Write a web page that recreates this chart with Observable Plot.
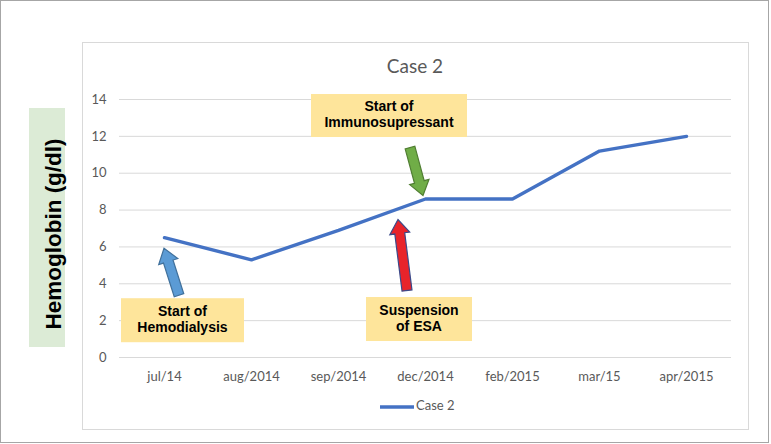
<!DOCTYPE html>
<html><head><meta charset="utf-8">
<script src="https://cdn.jsdelivr.net/npm/d3@7"></script>
<script src="https://cdn.jsdelivr.net/npm/@observablehq/plot@0.6"></script>
<style>body{margin:0;background:#fff}</style>
</head><body><div id="chart"></div>
<script>
const categories = ["jul/14","aug/2014","sep/2014","dec/2014","feb/2015","mar/15","apr/2015"];
const hemoglobin = [6.5, 5.3, 6.9, 8.6, 8.6, 11.2, 12.0];
const yTicks = [0, 2, 4, 6, 8, 10, 12, 14];
const seriesName = "Case 2";
const chartTitle = "Case 2";
const yLabel = "Hemoglobin (g/dl)";
const annotationTexts = [["Start of", "Hemodialysis"], ["Start of", "Immunosupressant"], ["Suspension", "of ESA"]];
const annotationAnchors = ["jul/14", "dec/2014", "dec/2014"];

const data = categories.map((c, i) => ({month: c, hb: hemoglobin[i]}));

const plot = Plot.plot({
  width: 771, height: 444,
  marginLeft: 119, marginRight: 40, marginTop: 99, marginBottom: 87,
  style: {fontFamily: "Lato, sans-serif", background: "#fff"},
  x: {type: "point", domain: categories, padding: 0.5},
  y: {domain: [0, 14]},
  marks: [
    Plot.gridY(yTicks, {stroke: "#d9d9d9", strokeOpacity: 1, strokeWidth: 1}),
    Plot.axisY(yTicks, {tickSize: 0, tickPadding: 13, fontSize: 13, color: "#595959", label: null}),
    Plot.axisX({tickSize: 0, tickPadding: 14, fontSize: 13, color: "#595959", label: null}),
    Plot.line(data, {x: "month", y: "hb", stroke: "#4472c4", strokeWidth: 3.4, strokeLinejoin: "miter"})
  ]
});
document.getElementById("chart").appendChild(plot);

const sx = plot.scale("x").apply, sy = plot.scale("y").apply;
const svg = d3.select(plot);
const hbOf = m => hemoglobin[categories.indexOf(m)];

// frames (behind)
const back = svg.insert("g", ":first-child");
back.append("rect").attr("x", 0.5).attr("y", 0.5).attr("width", 768).attr("height", 442)
  .attr("fill", "#fff").attr("stroke", "#a6a6a6");
back.append("rect").attr("x", 82.5).attr("y", 42.5).attr("width", 666).attr("height", 387)
  .attr("fill", "#fff").attr("stroke", "#d9d9d9");

const g = svg.append("g").attr("text-anchor", "start");
// title
g.append("text").attr("x", 415).attr("y", 68).attr("text-anchor", "middle").attr("dominant-baseline", "middle")
  .attr("font-size", 19).attr("fill", "#595959").text(chartTitle);
// legend
g.append("line").attr("x1", 380).attr("x2", 414).attr("y1", 407).attr("y2", 407)
  .attr("stroke", "#4472c4").attr("stroke-width", 3.4);
g.append("text").attr("x", 416).attr("y", 407).attr("text-anchor", "start").attr("dominant-baseline", "middle")
  .attr("font-size", 13).attr("fill", "#595959").text(seriesName);
// y label
g.append("rect").attr("x", 29).attr("y", 108).attr("width", 36).attr("height", 239).attr("fill", "#dcebd6");
g.append("text").attr("transform", "translate(55,234) rotate(-90)").attr("text-anchor", "middle")
  .attr("dominant-baseline", "middle").attr("font-family", "Liberation Sans, Arial, sans-serif")
  .attr("font-weight", "bold").attr("font-size", 22.5).attr("fill", "#000").text(yLabel);

function arrowPath(x0, y0, x1, y1, w, hw, hl) {
  const dx = x1 - x0, dy = y1 - y0, L = Math.hypot(dx, dy);
  const ux = dx / L, uy = dy / L, nx = -uy, ny = ux;
  const bx = x1 - ux * hl, by = y1 - uy * hl;
  const p = [
    [x0 + nx * w / 2, y0 + ny * w / 2], [bx + nx * w / 2, by + ny * w / 2], [bx + nx * hw / 2, by + ny * hw / 2],
    [x1, y1], [bx - nx * hw / 2, by - ny * hw / 2], [bx - nx * w / 2, by - ny * w / 2], [x0 - nx * w / 2, y0 - ny * w / 2]
  ];
  return "M" + p.map(q => q.join(",")).join("L") + "Z";
}

const layout = [
  {box: [18.5, 83, 123, 44], tip: [0, 11], tail: [15, 58], fill: "#5b9bd5", stroke: "#41719c"},
  {box: [-36, -83, 156, 43], tip: [-2, -3], tail: [-15, -51], fill: "#70ad47", stroke: "#507e32"},
  {box: [-6, 120.5, 106, 44], tip: [-27, 21], tail: [-18, 92], fill: "#e8242b", stroke: "#3b4a8a"}
];

layout.forEach((L, i) => {
  const ax = sx(annotationAnchors[i]), ay = sy(hbOf(annotationAnchors[i]));
  const cx = ax + L.box[0], cy = ay + L.box[1];
  g.append("rect").attr("x", cx - L.box[2] / 2).attr("y", cy - L.box[3] / 2)
    .attr("width", L.box[2]).attr("height", L.box[3]).attr("fill", "#fee59b");
  annotationTexts[i].forEach((t, j) => {
    g.append("text").attr("x", cx).attr("y", cy + (j === 0 ? -8 : 8)).attr("text-anchor", "middle")
      .attr("dominant-baseline", "middle").attr("font-family", "Liberation Sans, Arial, sans-serif")
      .attr("font-weight", "bold").attr("font-size", 14).attr("fill", "#000").text(t);
  });
  g.append("path").attr("d", arrowPath(ax + L.tail[0], ay + L.tail[1], ax + L.tip[0], ay + L.tip[1], 10, 20, 14))
    .attr("fill", L.fill).attr("stroke", L.stroke).attr("stroke-width", 1.2).attr("stroke-linejoin", "miter");
});
</script>
</body></html>
